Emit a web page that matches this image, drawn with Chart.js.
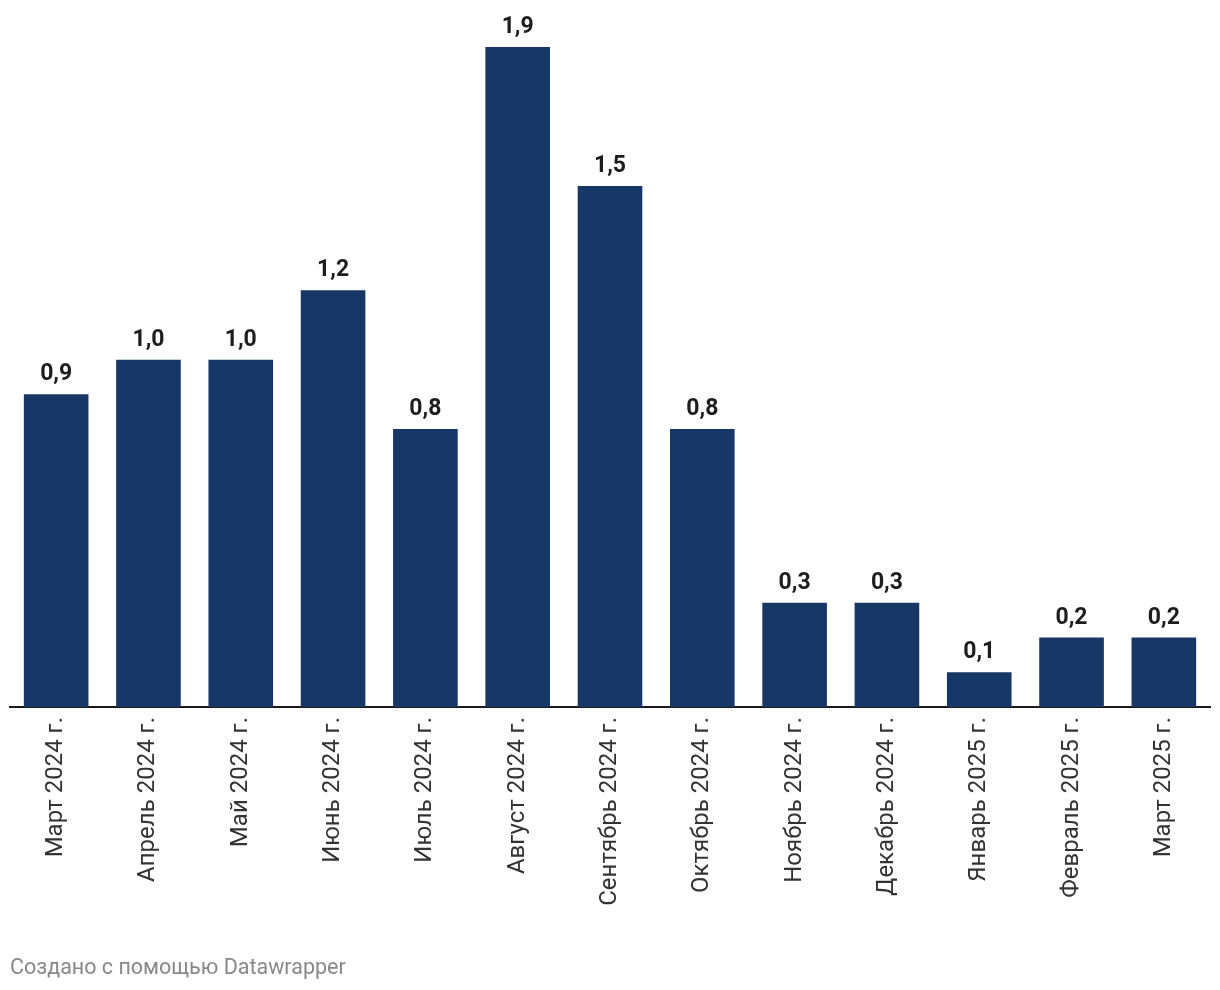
<!DOCTYPE html>
<html>
<head>
<meta charset="utf-8">
<script src="https://cdn.jsdelivr.net/npm/chart.js@4"></script>
<style>
html,body{margin:0;padding:0;background:#fff;}
#wrap{position:relative;width:1220px;height:990px;}
</style>
</head>
<body>
<div id="wrap"><canvas id="c" width="1220" height="990"></canvas></div>
<script>
const categories = ["Март 2024 г.","Апрель 2024 г.","Май 2024 г.","Июнь 2024 г.","Июль 2024 г.","Август 2024 г.","Сентябрь 2024 г.","Октябрь 2024 г.","Ноябрь 2024 г.","Декабрь 2024 г.","Январь 2025 г.","Февраль 2025 г.","Март 2025 г."];
const values = [0.9,1.0,1.0,1.2,0.8,1.9,1.5,0.8,0.3,0.3,0.1,0.2,0.2];
const footerText = "Создано с помощью Datawrapper";

const valueLabels = {
  id:'valueLabels',
  afterDatasetsDraw(chart){
    const ctx = chart.ctx;
    const meta = chart.getDatasetMeta(0);
    ctx.save();
    ctx.font = 'bold 23px Roboto';
    ctx.fillStyle = '#1d1d1d';
    ctx.textAlign = 'center';
    ctx.textBaseline = 'alphabetic';
    meta.data.forEach((bar,i)=>{
      ctx.fillText(values[i].toFixed(1).replace('.',','), bar.x, bar.y - 14);
    });
    ctx.restore();
  }
};
const footer = {
  id:'footer',
  afterDraw(chart){
    const ctx = chart.ctx;
    ctx.save();
    ctx.font = '21.5px Roboto';
    ctx.fillStyle = '#888888';
    ctx.textAlign = 'left';
    ctx.textBaseline = 'alphabetic';
    ctx.fillText(footerText, 10, 974);
    ctx.restore();
  }
};

new Chart(document.getElementById('c'), {
  type:'bar',
  data:{labels:categories, datasets:[{data:values, backgroundColor:'#173766', categoryPercentage:1, barPercentage:0.7}]},
  options:{
    responsive:false, animation:false,
    layout:{padding:{top:47,left:10,right:10,bottom:0}},
    plugins:{legend:{display:false},tooltip:{enabled:false}},
    scales:{
      x:{
        grid:{display:false, drawTicks:false},
        border:{display:true,color:'#1a1a1a',width:2},
        ticks:{color:'#333333',font:{family:'Roboto',size:24},minRotation:90,maxRotation:90,padding:10,autoSkip:false},
        afterFit(s){ s.height = 283; }
      },
      y:{display:false,min:0,max:1.9}
    }
  },
  plugins:[valueLabels, footer]
});
</script>
</body>
</html>
